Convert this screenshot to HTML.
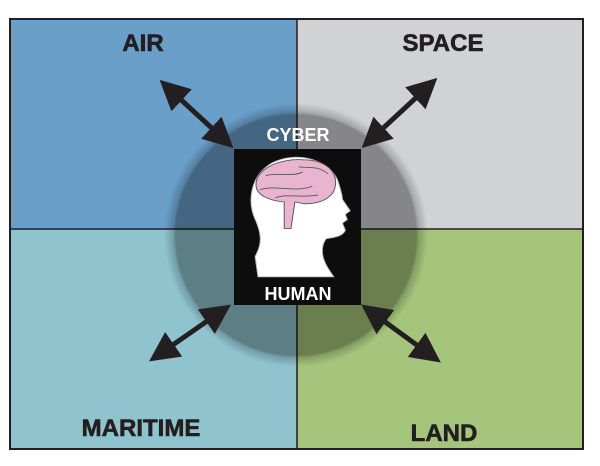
<!DOCTYPE html>
<html><head><style>
body{margin:0;background:#fff;}
svg text{font-family:"Liberation Sans",sans-serif;font-weight:bold;}
</style></head><body>
<svg width="600" height="461" viewBox="0 0 600 461" xmlns="http://www.w3.org/2000/svg">
<defs>
<radialGradient id="g" cx="0.5" cy="0.5" r="0.5">
<stop offset="0.91" stop-color="#000" stop-opacity="0.36"/>
<stop offset="0.93" stop-color="#000" stop-opacity="0.2"/>
<stop offset="1" stop-color="#000" stop-opacity="0"/>
</radialGradient>
<marker id="a" viewBox="0 0 10 10" refX="8" refY="5" markerWidth="6" markerHeight="6" orient="auto-start-reverse">
<path d="M0,0 L10,5 L0,10 z" fill="#231f20"/>
</marker>
</defs>
<rect x="10" y="19" width="287" height="210" fill="#6a9fca"/>
<rect x="297" y="19" width="286" height="210" fill="#d1d2d4"/>
<rect x="10" y="229" width="287" height="220" fill="#8fc4ce"/>
<rect x="297" y="229" width="286" height="220" fill="#a6c57c"/>
<line x1="297" y1="19" x2="297" y2="449" stroke="#231f20" stroke-width="1.5"/>
<line x1="10" y1="229" x2="583" y2="229" stroke="#231f20" stroke-width="1.5"/>
<rect x="10" y="19" width="573" height="430" fill="none" stroke="#231f20" stroke-width="2"/>
<circle cx="296" cy="235" r="132" fill="url(#g)"/>
<g stroke="#231f20" stroke-width="5" marker-start="url(#a)" marker-end="url(#a)">
<line x1="164" y1="84" x2="229" y2="144"/>
<line x1="433" y1="82" x2="366" y2="144"/>
<line x1="154" y1="358" x2="226" y2="308"/>
<line x1="366" y1="308" x2="436" y2="359"/>
</g>
<rect x="234" y="149" width="127" height="156" fill="#0d0d0d"/>
<g transform="translate(0,158) scale(0.97,0.88) translate(8,-160)">
<path d="M255,272 C262,258 262,248 256,232 C246,210 250,180 272,166 C296,152 330,160 340,185 C343,195 345,202 345,207 L353,220 L348,224 L350,230 L345,234 L348,242 C345,250 335,250 328,252 C322,262 324,274 330,285 L336,295 L258,295 Z" fill="#fff" stroke="#bbb" stroke-width="1"/>
<path d="M256,192 C254,172 282,160 305,162 C324,162 338,172 338,188 C338,204 324,212 306,212 L296,210 L292,240 L285,240 L285,210 C268,208 257,202 256,192 Z" fill="#e8b4cf" stroke="#555" stroke-width="1"/>
<path d="M266,180 C280,176 292,182 304,176 M260,196 C278,190 296,200 314,192 M300,170 C310,172 320,168 330,178 M276,205 C290,200 300,206 320,202" stroke="#555" fill="none" stroke-width="1"/>
</g>
<text x="298" y="141" font-size="18" fill="#fff" text-anchor="middle">CYBER</text>
<text x="298" y="300" font-size="18" fill="#fff" text-anchor="middle">HUMAN</text>
<text x="143" y="51" font-size="24" fill="#231f20" text-anchor="middle" stroke="#231f20" stroke-width="0.6">AIR</text>
<text x="443" y="51" font-size="24" fill="#231f20" text-anchor="middle" stroke="#231f20" stroke-width="0.6">SPACE</text>
<text x="141" y="436" font-size="24" fill="#231f20" text-anchor="middle" stroke="#231f20" stroke-width="0.6">MARITIME</text>
<text x="444" y="441" font-size="24" fill="#231f20" text-anchor="middle" stroke="#231f20" stroke-width="0.6">LAND</text>
</svg>
</body></html>
